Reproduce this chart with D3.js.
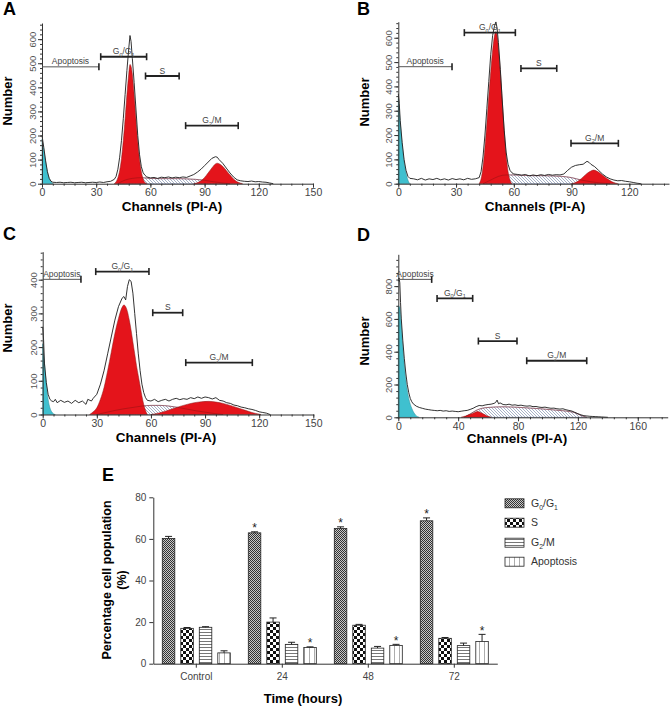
<!DOCTYPE html>
<meta charset="utf-8">
<script src="https://d3js.org/d3.v7.min.js"></script>
<style>
  body { margin: 0; background: #fff; }
  svg { font-family: "Liberation Sans", Arial, sans-serif; }
</style>
<div id="chart"></div>
<script>

// ---------- histogram values: [channel, count] ----------
const dataA = [[0,200],[1,150],[2,95],[3,50],[4,22],[5,10],[6,6],[8,5],[10,6],[12,4],[14,5],[16,6],[18,4],[20,5],[22,6],[24,4],[26,5],[28,6],[30,5],[32,7],[34,5],[36,8],[38,10],[40,18],[41,30],[42,60],[43,110],[44,180],[45,270],[46,370],[47,470],[48,560],[48.7,615],[49.3,590],[50,520],[51,420],[52,310],[53,200],[54,120],[55,70],[56,45],[57,35],[58,28],[60,24],[62,26],[64,22],[66,27],[68,25],[70,28],[72,24],[74,27],[76,25],[78,28],[80,26],[82,32],[84,38],[86,48],[88,60],[90,75],[92,90],[94,105],[96,112],[97,110],[98,100],[100,85],[102,65],[104,45],[106,28],[108,16],[110,12],[112,10],[114,9],[116,11],[118,8],[120,9],[122,7],[124,6],[126,3],[128,0]];
const cyanA = [[0,185],[1,140],[2,90],[3,48],[4,22],[5,8],[6,0]];
const g1A = [[40,0],[41,8],[42,25],[43,55],[44,105],[45,180],[46,270],[47,370],[48,455],[48.7,495],[49.5,480],[50,455],[51,370],[52,270],[53,175],[54,100],[55,50],[56,20],[57,5],[58,0]];
const sA = [[42,0],[45,12],[50,22],[55,25],[60,22],[65,21],[70,21],[75,21],[80,20],[85,18],[90,14],[95,8],[100,3],[104,0]];
const g2A = [[84,0],[86,4],[88,12],[90,26],[92,45],[94,65],[96,82],[97,85],[98,83],[100,72],[102,55],[104,37],[106,20],[108,8],[110,2],[111,0]];
const bracketsA = [["Apoptosis",0,31.5,485],["G0/G1",32.5,57.9,527],["S",57.3,75.9,447],["G2/M",79.5,108.6,241]];

const dataB = [[0,370],[0.5,330],[1,260],[2,170],[3,100],[4,55],[5,30],[6,22],[8,20],[10,16],[12,22],[14,15],[16,20],[18,17],[20,22],[22,16],[24,20],[26,15],[28,21],[30,17],[32,20],[34,16],[36,22],[38,18],[40,20],[42,25],[43,50],[44,110],[45,200],[46,310],[47,420],[48,530],[49,610],[50,650],[50.7,665],[51.3,640],[52,580],[53,470],[54,340],[55,220],[56,130],[57,80],[58,55],[59,45],[60,40],[62,38],[64,35],[66,38],[68,32],[70,36],[72,33],[74,37],[76,34],[78,38],[80,35],[82,37],[84,36],[86,40],[88,55],[90,68],[92,75],[94,78],[96,80],[98,92],[99,88],[100,80],[102,70],[104,55],[106,40],[108,28],[110,20],[112,15],[114,12],[116,13],[118,10],[120,8],[122,5],[124,2],[126,0]];
const cyanB = [[0,350],[1,250],[2,160],[3,90],[4,45],[5,15],[6,0]];
const g1B = [[42,0],[43,20],[44,70],[45,150],[46,250],[47,360],[48,460],[49,550],[50,610],[50.7,625],[51.5,600],[52,560],[53,460],[54,340],[55,220],[56,120],[57,50],[58,15],[59,0]];
const sB = [[44,0],[48,15],[52,30],[56,36],[60,36],[65,34],[70,33],[75,33],[80,32],[85,30],[90,25],[95,15],[100,8],[105,3],[110,0]];
const g2B = [[90,0],[92,5],[94,14],[96,28],[98,42],[100,52],[101.5,56],[103,52],[105,42],[107,30],[109,18],[111,8],[113,2],[114,0]];
const bracketsB = [["Apoptosis",0,27.9,481],["G0/G1",34.3,60.8,621],["S",63.7,82.3,474],["G2/M",89.7,114.3,166]];

const dataC = [[0,260],[0.5,220],[1,150],[2,95],[3,60],[4,45],[5,40],[6,38],[7,45],[8,35],[10,42],[12,36],[14,40],[16,33],[18,42],[20,35],[22,40],[24,30],[25,45],[27,40],[28,48],[30,60],[32,90],[34,130],[36,180],[38,230],[40,280],[42,320],[44,345],[45,350],[46,340],[47,380],[48,400],[49,395],[50,360],[51,300],[52,240],[53,180],[54,130],[55,90],[56,65],[57,50],[58,42],[60,40],[62,45],[64,38],[66,42],[68,45],[70,40],[72,45],[74,48],[76,44],[78,47],[80,45],[82,50],[84,47],[86,52],[88,48],[90,52],[92,50],[94,46],[96,50],[98,42],[100,40],[102,35],[104,33],[106,28],[108,26],[110,22],[112,20],[114,17],[116,15],[118,12],[120,8],[122,6],[124,4],[126,0]];
const cyanC = [[0,210],[1,150],[2,90],[3,45],[4,20],[5,8],[6,2],[7,0]];
const g1C = [[26,0],[28,8],[30,20],[32,45],[34,80],[36,130],[38,185],[40,240],[42,285],[44,318],[45,325],[46,320],[47,305],[48,280],[49,250],[50,215],[51,180],[52,145],[53,115],[54,85],[55,55],[56,30],[57,12],[58,0]];
const sC = [[30,0],[35,6],[40,12],[45,17],[50,21],[55,25],[60,27],[65,27],[70,25],[75,21],[80,16],[85,11],[90,7],[95,3],[100,0]];
const g2C = [[60,0],[64,4],[68,10],[72,17],[76,24],[80,30],[84,35],[88,38],[92,39],[96,37],[100,33],[104,27],[108,20],[112,13],[116,6],[119,2],[121,0]];
const bracketsC = [["Apoptosis",0,21.2,401],["G0/G1",29.4,58.9,424],["S",61,77.6,302],["G2/M",79.3,116.2,154]];

const dataD = [[0,830],[0.5,850],[1,820],[1.5,700],[2,600],[3,470],[4,360],[5,270],[6,200],[7,150],[8,115],[9,95],[10,82],[12,68],[14,60],[16,55],[18,50],[20,47],[22,44],[24,42],[26,40],[28,42],[30,38],[32,40],[34,36],[36,38],[38,36],[40,34],[42,37],[44,40],[46,42],[48,48],[50,55],[52,65],[54,72],[56,70],[58,75],[60,78],[62,80],[64,85],[65,90],[66,105],[67,82],[68,88],[70,78],[72,76],[74,80],[76,74],[78,76],[80,72],[82,74],[84,70],[86,68],[88,70],[90,65],[92,66],[94,62],[96,60],[98,62],[100,58],[102,55],[104,56],[106,52],[108,50],[110,52],[112,46],[114,42],[116,38],[118,30],[120,22],[122,15],[124,10],[126,8],[128,6],[130,5],[132,4],[134,3],[136,2],[140,0]];
const cyanD = [[0,680],[1,670],[2,560],[3,430],[4,320],[5,230],[6,165],[7,115],[8,80],[9,55],[10,35],[11,20],[12,10],[13,3],[14,0]];
const g1D = [[42,0],[45,8],[48,18],[51,30],[53,35],[55,30],[57,20],[59,10],[61,3],[62,0]];
const g2D = [];
const sD = [[44,0],[48,20],[52,42],[56,55],[60,60],[65,63],[70,64],[75,63],[80,61],[85,58],[90,55],[95,52],[100,48],[105,44],[110,40],[115,34],[118,28],[120,20],[122,12],[124,5],[126,0]];
const bracketsD = [["Apoptosis",0,22.3,841],["G0/G1",25.9,49.7,725],["S",53.5,79.3,465],["G2/M",85.8,125.9,345]];

// ---------- bar chart values (panel E) ----------
const timeCats = ["Control", "24", "48", "72"];
const phaseKeys = ["G0/G1", "S", "G2/M", "Apoptosis"];
const g1Vals = [60.2, 62.9, 65.0, 68.7];
const g1Err  = [1.0, 0.5, 0.8, 1.4];
const sVals  = [17.0, 20.0, 18.5, 12.2];
const sErr   = [0.4, 2.0, 0.4, 0.4];
const g2Vals = [17.5, 9.3, 7.5, 8.7];
const g2Err  = [0.3, 1.0, 0.8, 1.2];
const apoVals = [5.2, 7.8, 8.8, 10.7];
const apoErr  = [1.0, 0.3, 0.5, 3.4];
const g1Sig  = [false, true, true, true];
const apoSig = [false, true, true, true];

// label pieces: [text, subscript?]
const phaseText = {
  "G0/G1": [["G",0],["0",1],["/G",0],["1",1]],
  "S": [["S",0]],
  "G2/M": [["G",0],["2",1],["/M",0]],
  "Apoptosis": [["Apoptosis",0]]
};

const svg = d3.select("#chart").append("svg")
  .attr("width", 672).attr("height", 707);

const defs = svg.append("defs");

// diagonal hatch for S-phase fits
const hatch = defs.append("pattern").attr("id", "hatch")
  .attr("patternUnits", "userSpaceOnUse").attr("width", 3).attr("height", 3);
hatch.append("rect").attr("width", 3).attr("height", 3).attr("fill", "#fff");
hatch.append("path").attr("d", "M-1,-1L4,4M-1,2L1,4M2,-1L4,1")
  .attr("stroke", "#6c7da3").attr("stroke-width", 0.6);

// bar fills
const pG1 = defs.append("pattern").attr("id", "pG1")
  .attr("patternUnits", "userSpaceOnUse").attr("width", 2).attr("height", 2);
pG1.append("rect").attr("width", 2).attr("height", 2).attr("fill", "#c8c8c8");
pG1.append("rect").attr("width", 1).attr("height", 1).attr("fill", "#333");
pG1.append("rect").attr("x", 1).attr("y", 1).attr("width", 1).attr("height", 1).attr("fill", "#333");

const pS = defs.append("pattern").attr("id", "pS")
  .attr("patternUnits", "userSpaceOnUse").attr("width", 6).attr("height", 6);
pS.append("rect").attr("width", 6).attr("height", 6).attr("fill", "#fff");
pS.append("rect").attr("width", 3).attr("height", 3).attr("fill", "#111");
pS.append("rect").attr("x", 3).attr("y", 3).attr("width", 3).attr("height", 3).attr("fill", "#111");

const pG2 = defs.append("pattern").attr("id", "pG2")
  .attr("patternUnits", "userSpaceOnUse").attr("width", 4).attr("height", 3);
pG2.append("rect").attr("width", 4).attr("height", 3).attr("fill", "#fff");
pG2.append("rect").attr("y", 2).attr("width", 4).attr("height", 1).attr("fill", "#777");

const pApo = defs.append("pattern").attr("id", "pApo")
  .attr("patternUnits", "userSpaceOnUse").attr("width", 5).attr("height", 4);
pApo.append("rect").attr("width", 5).attr("height", 4).attr("fill", "#fff");
pApo.append("rect").attr("x", 4).attr("width", 0.8).attr("height", 4).attr("fill", "#999");

const phaseFill = ["url(#pG1)", "url(#pS)", "url(#pG2)", "url(#pApo)"];

function writeLabel(textSel, key, size) {
  let shift = 0;
  phaseText[key].forEach(([t, sub]) => {
    const want = sub ? size * 0.3 : 0;
    textSel.append("tspan")
      .attr("dy", want - shift)
      .attr("font-size", sub ? size * 0.65 : size)
      .text(t);
    shift = want;
  });
}

// ---------- histogram panels ----------
const panels = [
  {letter: "A", letterPos: [3, 15], data: dataA, cyan: cyanA, g1: g1A, g2: g2A, s: sA, brackets: bracketsA,
   xDomain: [0, 150], xRange: [42, 313], yDomain: [0, 667], yRange: [183.7, 23],
   xTicks: d3.range(0, 151, 30), xMinor: d3.range(0, 151, 6), yTicks: d3.range(0, 601, 100), yMinor: d3.range(0, 661, 20),
   numberPos: [12, 101], channelsPos: [172, 211]},
  {letter: "B", letterPos: [357, 15], data: dataB, cyan: cyanB, g1: g1B, g2: g2B, s: sB, brackets: bracketsB,
   xDomain: [0, 140.6], xRange: [398.3, 669], yDomain: [0, 666], yRange: [183.7, 21.7],
   xTicks: d3.range(0, 121, 30), xMinor: d3.range(0, 141, 6), yTicks: d3.range(0, 601, 100), yMinor: d3.range(0, 661, 20),
   numberPos: [369, 102], channelsPos: [535, 211]},
  {letter: "C", letterPos: [3, 240], data: dataC, cyan: cyanC, g1: g1C, g2: g2C, s: sC, brackets: bracketsC,
   xDomain: [0, 150], xRange: [42.7, 313.3], yDomain: [0, 483], yRange: [414.5, 251.7],
   xTicks: d3.range(0, 151, 30), xMinor: d3.range(0, 151, 6), yTicks: d3.range(0, 401, 100), yMinor: d3.range(0, 481, 20),
   numberPos: [12, 328], channelsPos: [166, 442]},
  {letter: "D", letterPos: [357, 241], data: dataD, cyan: cyanD, g1: g1D, g2: g2D, s: sD, brackets: bracketsD,
   xDomain: [0, 180], xRange: [398.3, 667.7], yDomain: [0, 994], yRange: [417.3, 254.3],
   xTicks: d3.range(0, 161, 40), xMinor: d3.range(0, 181, 8), yTicks: d3.range(0, 801, 200), yMinor: d3.range(0, 981, 40),
   numberPos: [369, 341], channelsPos: [517, 443]}
];

panels.forEach(p => {
  const x = d3.scaleLinear().domain(p.xDomain).range(p.xRange);
  const y = d3.scaleLinear().domain(p.yDomain).range(p.yRange);
  const g = svg.append("g");

  const area = d3.area().x(d => x(d[0])).y0(y(0)).y1(d => y(d[1])).curve(d3.curveMonotoneX);
  const line = d3.line().x(d => x(d[0])).y(d => y(d[1])).curve(d3.curveMonotoneX);

  g.append("path").datum(p.s).attr("d", area)
    .attr("fill", "url(#hatch)").attr("stroke", "#7b8bb0").attr("stroke-width", 0.6);
  [p.g1, p.g2].forEach(comp => {
    if (!comp.length) return;
    g.append("path").datum(comp).attr("d", area)
      .attr("fill", "#e4141b").attr("stroke", "#8a1a1a").attr("stroke-width", 0.5);
  });
  g.append("path").datum(p.s).attr("d", line)
    .attr("fill", "none").attr("stroke", "#8c1010").attr("stroke-width", 0.6).attr("opacity", 0.8);
  g.append("path").datum(p.cyan).attr("d", area)
    .attr("fill", "#3fc0cf").attr("stroke", "#2a8f9a").attr("stroke-width", 0.5);

  // measured histogram
  g.append("path").datum(p.data)
    .attr("d", d3.line().x(d => x(d[0])).y(d => y(d[1])))
    .attr("fill", "none").attr("stroke", "#1c1c1c").attr("stroke-width", 0.9);

  // axes
  const y0 = y(0), xa = x(0);
  const xAxis = g.append("g").attr("transform", `translate(0,${y0})`)
    .call(d3.axisBottom(x).tickValues(p.xTicks).tickSize(4).tickSizeOuter(0));
  xAxis.selectAll("text").attr("font-size", 10.5).attr("fill", "#444").attr("y", 5);
  g.append("g").attr("transform", `translate(0,${y0})`)
    .call(d3.axisBottom(x).tickValues(p.xMinor).tickSize(2).tickFormat("").tickSizeOuter(0))
    .select(".domain").remove();

  const yAxis = g.append("g").attr("transform", `translate(${xa},0)`)
    .call(d3.axisLeft(y).tickValues(p.yTicks).tickSize(4).tickSizeOuter(0));
  yAxis.selectAll("text")
    .attr("transform", "rotate(-90)")
    .attr("x", 0).attr("y", -6).attr("dy", 0)
    .attr("text-anchor", "middle").attr("font-size", 9.5).attr("fill", "#555");
  g.append("g").attr("transform", `translate(${xa},0)`)
    .call(d3.axisLeft(y).tickValues(p.yMinor).tickSize(2).tickFormat("").tickSizeOuter(0))
    .select(".domain").remove();
  g.selectAll(".domain, .tick line").attr("stroke", "#333");

  // phase brackets
  p.brackets.forEach(([key, c0, c1, n]) => {
    const yy = y(n), x0 = x(c0), x1 = x(c1);
    const isApo = key === "Apoptosis";
    g.append("line").attr("x1", x0).attr("x2", x1).attr("y1", yy).attr("y2", yy)
      .attr("stroke", isApo ? "#555" : "#222").attr("stroke-width", isApo ? 1 : 1.8);
    (isApo ? [x1] : [x0, x1]).forEach(xx => {
      g.append("line").attr("x1", xx).attr("x2", xx).attr("y1", yy - 3.5).attr("y2", yy + 3.5)
        .attr("stroke", "#222").attr("stroke-width", 1.6);
    });
    const t = g.append("text").attr("x", (x0 + x1) / 2).attr("y", yy - 2.5)
      .attr("text-anchor", "middle").attr("fill", "#444").attr("font-size", 8.5);
    writeLabel(t, key, 8.5);
  });

  svg.append("text").attr("x", p.letterPos[0]).attr("y", p.letterPos[1])
    .attr("font-size", 18).attr("font-weight", "bold").text(p.letter);
  svg.append("text").attr("transform", `translate(${p.numberPos[0]},${p.numberPos[1]}) rotate(-90)`)
    .attr("text-anchor", "middle").attr("font-size", 13).attr("font-weight", "bold").text("Number");
  svg.append("text").attr("x", p.channelsPos[0]).attr("y", p.channelsPos[1])
    .attr("text-anchor", "middle").attr("font-size", 13.5).attr("font-weight", "bold").text("Channels (PI-A)");
});

// ---------- panel E: grouped bars ----------
const vals = [g1Vals, sVals, g2Vals, apoVals];
const errs = [g1Err, sErr, g2Err, apoErr];
const sigs = [g1Sig, [false,false,false,false], [false,false,false,false], apoSig];

const xE = d3.scaleBand().domain(timeCats).range([153.3, 497.3]);
const xSub = d3.scaleBand().domain(phaseKeys).range([9, 77]).paddingInner(0.324);
const yE = d3.scaleLinear().domain([0, 80]).range([663.7, 497.3]);

const gE = svg.append("g");
timeCats.forEach((cat, i) => {
  phaseKeys.forEach((ph, k) => {
    const v = vals[k][i], e = errs[k][i];
    const bx = xE(cat) + xSub(ph), bw = xSub.bandwidth();
    gE.append("rect").attr("x", bx).attr("y", yE(v))
      .attr("width", bw).attr("height", yE(0) - yE(v))
      .attr("fill", phaseFill[k]).attr("stroke", "#222").attr("stroke-width", 0.8);
    const cx = bx + bw / 2;
    gE.append("line").attr("x1", cx).attr("x2", cx).attr("y1", yE(v)).attr("y2", yE(v + e))
      .attr("stroke", "#222").attr("stroke-width", 1);
    gE.append("line").attr("x1", cx - 3.5).attr("x2", cx + 3.5).attr("y1", yE(v + e)).attr("y2", yE(v + e))
      .attr("stroke", "#222").attr("stroke-width", 1);
    if (sigs[k][i]) {
      gE.append("text").attr("x", cx).attr("y", yE(v + e) + 0.5)
        .attr("text-anchor", "middle").attr("font-size", 12).attr("fill", "#222").text("*");
    }
  });
});

const yAxE = gE.append("g").attr("transform", "translate(153.3,0)")
  .call(d3.axisLeft(yE).tickValues([0, 20, 40, 60, 80]).tickSize(4).tickSizeOuter(0));
yAxE.selectAll("text").attr("font-size", 10).attr("fill", "#444");
const xAxE = gE.append("g").attr("transform", "translate(0,663.7)")
  .call(d3.axisBottom(xE).tickSize(4).tickSizeOuter(0));
xAxE.selectAll("text").attr("font-size", 10).attr("fill", "#444").attr("y", 9);
gE.selectAll(".domain, .tick line").attr("stroke", "#333");

svg.append("text").attr("x", 102).attr("y", 481)
  .attr("font-size", 18).attr("font-weight", "bold").text("E");
const yl = svg.append("text").attr("transform", "translate(111,580) rotate(-90)")
  .attr("text-anchor", "middle").attr("font-size", 12.5).attr("font-weight", "bold");
yl.append("tspan").attr("x", 0).attr("dy", 0).text("Percentage cell population");
yl.append("tspan").attr("x", 0).attr("dy", 15).text("(%)");
svg.append("text").attr("x", 303).attr("y", 703)
  .attr("text-anchor", "middle").attr("font-size", 13).attr("font-weight", "bold").text("Time (hours)");

// legend
const legRows = [503.3, 522.7, 542.7, 561.7];
phaseKeys.forEach((ph, k) => {
  svg.append("rect").attr("x", 505).attr("y", legRows[k] - 4.5).attr("width", 19).attr("height", 9)
    .attr("fill", phaseFill[k]).attr("stroke", "#222").attr("stroke-width", 0.8);
  const t = svg.append("text").attr("x", 531).attr("y", legRows[k] + 3.5)
    .attr("fill", "#333").attr("font-size", 10.5);
  writeLabel(t, ph, 10.5);
});

</script>
